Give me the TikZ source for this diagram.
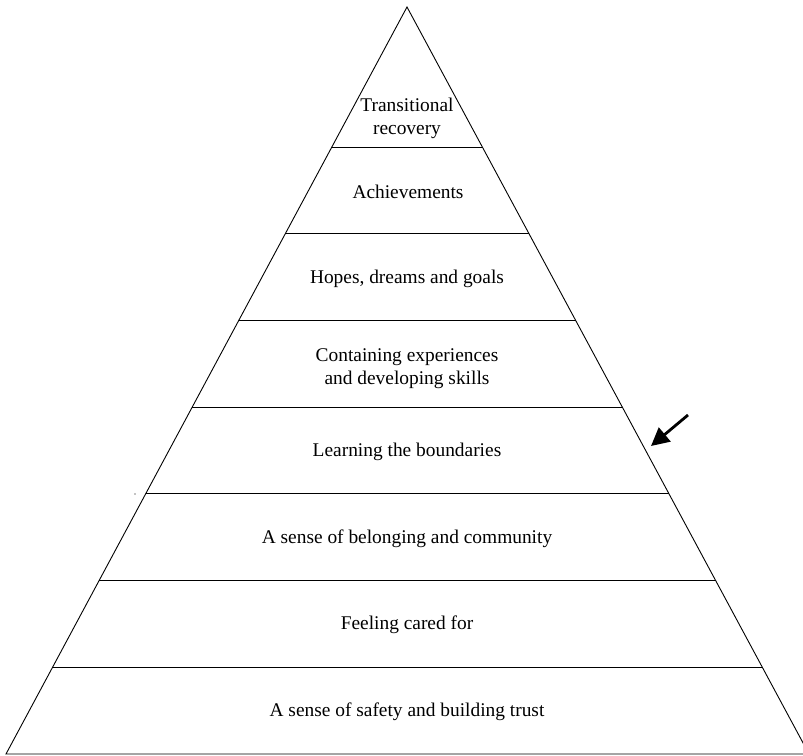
\documentclass[tikz,border=0pt]{standalone}
\usepackage{fontspec}
\setmainfont{Liberation Serif}
\usetikzlibrary{calc,arrows.meta}
\begin{document}
\begin{tikzpicture}[x=1pt,y=-1pt,
  edge/.style={line width=0.9pt,black},
  band/.style={font=\fontsize{19.4}{23}\selectfont,align=center,inner sep=0pt},
  pointer/.style={line width=2.8pt,-{Triangle[length=18pt,width=18pt]}}]
\useasboundingbox (0,0) rectangle (803,755);
\clip (0,0) rectangle (803,755);
% outline of the pyramid
\coordinate (apex) at (407,7);
\coordinate (bl) at (6,754);
\coordinate (br) at (809,754);
\draw[edge] (bl) -- (apex) -- (br) -- cycle;
% level dividers
\foreach \k in {1,...,7}{
  \coordinate (l\k) at ($(bl)!{\k*0.11606}!(apex)$);
  \coordinate (r\k) at ($(br)!{\k*0.11606}!(apex)$);
  \draw[edge] (l\k) -- (r\k);
}
% level labels, bottom to top
\node[band] (t1) at (407,712) {A sense of safety and building trust};
\node[band] (t2) at (407,625) {Feeling cared for};
\node[band] (t3) at (407,539) {A sense of belonging and community};
\node[band] (t4) at (407,452) {Learning the boundaries};
\node[band] (t5) at (407,369) {Containing experiences\\ and developing skills};
\node[band] (t6) at (407,279) {Hopes, dreams and goals};
\node[band] (t7) at (408,192) {Achievements};
\node[band] (t8) at (407,118) {Transitional\\ recovery};
% arrow pointing at the boundaries level
\coordinate (pa) at (688,415);
\coordinate (pb) at (651,446);
\draw[pointer] (pa) -- (pb);
% stray mark beside the left edge
\fill (135,494) circle (0.6);
\end{tikzpicture}
\end{document}
